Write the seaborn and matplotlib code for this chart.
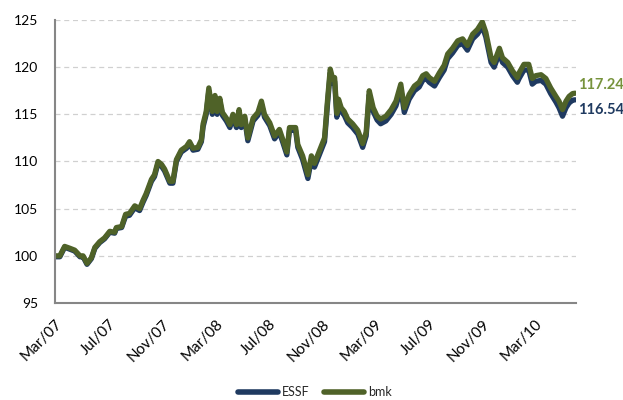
import pandas as pd
import numpy as np
import matplotlib.pyplot as plt
import matplotlib.dates as mdates
import seaborn as sns

# ------------------------------------------------------------------------
# Data
# ------------------------------------------------------------------------
dates = [
    "2007-03-01", "2007-03-12", "2007-03-23", "2007-04-04", "2007-04-15", "2007-04-27",
    "2007-05-04", "2007-05-13", "2007-05-23", "2007-05-31", "2007-06-11", "2007-06-22",
    "2007-07-04", "2007-07-15", "2007-07-19", "2007-07-31", "2007-08-09", "2007-08-18",
    "2007-08-30", "2007-09-10", "2007-09-18", "2007-09-25", "2007-10-07", "2007-10-14",
    "2007-10-22", "2007-10-30", "2007-11-06", "2007-11-18", "2007-11-25", "2007-12-03",
    "2007-12-14", "2007-12-26", "2008-01-02", "2008-01-10", "2008-01-21", "2008-01-29",
    "2008-02-02", "2008-02-09", "2008-02-15", "2008-02-23", "2008-02-29", "2008-03-05",
    "2008-03-11", "2008-03-17", "2008-03-26", "2008-04-03", "2008-04-10", "2008-04-18",
    "2008-04-24", "2008-04-29", "2008-05-07", "2008-05-14", "2008-05-26", "2008-06-06",
    "2008-06-14", "2008-06-21", "2008-07-03", "2008-07-14", "2008-07-25", "2008-08-02",
    "2008-08-11", "2008-08-17", "2008-08-31", "2008-09-05", "2008-09-16", "2008-09-28",
    "2008-10-06", "2008-10-13", "2008-10-25", "2008-11-05", "2008-11-12", "2008-11-18",
    "2008-11-24", "2008-11-28", "2008-12-03", "2008-12-07", "2008-12-13", "2008-12-20",
    "2008-12-28", "2009-01-08", "2009-01-20", "2009-01-31", "2009-02-08", "2009-02-15",
    "2009-02-24", "2009-03-05", "2009-03-13", "2009-03-25", "2009-04-06", "2009-04-17",
    "2009-04-28", "2009-05-06", "2009-05-17", "2009-05-29", "2009-06-09", "2009-06-17",
    "2009-06-25", "2009-07-02", "2009-07-14", "2009-07-25", "2009-08-05", "2009-08-13",
    "2009-08-24", "2009-09-05", "2009-09-16", "2009-09-27", "2009-10-09", "2009-10-20",
    "2009-10-31", "2009-11-08", "2009-11-20", "2009-11-27", "2009-12-09", "2009-12-16",
    "2009-12-28", "2010-01-08", "2010-01-19", "2010-01-23", "2010-02-03", "2010-02-14",
    "2010-02-22", "2010-03-02", "2010-03-14", "2010-03-25", "2010-04-05", "2010-04-17",
    "2010-04-24", "2010-05-02", "2010-05-10", "2010-05-17", "2010-05-25", "2010-05-31",
]

bmk = [
    100.0, 100.0, 101.0, 100.8, 100.6, 100.0, 100.0, 99.2, 99.8, 100.9, 101.5, 101.9,
    102.6, 102.5, 103.0, 103.1, 104.4, 104.5, 105.3, 105.0, 105.9, 106.6, 108.1, 108.6,
    110.0, 109.7, 109.2, 107.9, 107.9, 110.2, 111.2, 111.6, 112.1, 111.4, 111.5, 112.3,
    114.0, 115.3, 117.8, 115.3, 117.0, 115.3, 116.7, 115.2, 114.6, 113.9, 115.0, 113.9,
    115.5, 113.9, 114.8, 112.5, 114.6, 115.2, 116.4, 115.0, 114.1, 112.7, 113.4, 112.3,
    111.0, 113.6, 113.6, 111.8, 110.6, 108.6, 110.6, 109.8, 111.2, 112.5, 116.6, 119.8,
    118.7, 118.9, 115.1, 116.6, 115.7, 115.3, 114.5, 114.0, 113.3, 111.9, 113.1, 117.5,
    115.7, 114.8, 114.5, 114.8, 115.5, 116.4, 118.2, 115.7, 117.1, 118.0, 118.4, 119.1,
    119.3, 118.9, 118.5, 119.4, 120.2, 121.4, 122.0, 122.8, 123.0, 122.3, 123.5, 124.0,
    124.8, 123.7, 121.0, 120.5, 122.0, 121.0, 120.5, 119.6, 118.9, 119.4, 120.3, 120.3,
    118.8, 119.1, 119.2, 118.8, 117.8, 116.9, 116.4, 115.5, 116.4, 116.9, 117.2, 117.24,
]

essf = [
    99.9, 99.9, 100.9, 100.7, 100.5, 99.9, 99.9, 99.1, 99.7, 100.8, 101.4, 101.8,
    102.5, 102.4, 102.9, 103.0, 104.2, 104.3, 105.1, 104.8, 105.7, 106.4, 107.9, 108.4,
    109.8, 109.5, 109.0, 107.7, 107.7, 110.0, 111.0, 111.4, 111.9, 111.2, 111.3, 112.1,
    113.7, 115.0, 117.5, 115.0, 116.7, 115.0, 116.4, 114.9, 114.3, 113.6, 114.7, 113.6,
    115.2, 113.6, 114.5, 112.2, 114.3, 114.9, 116.1, 114.7, 113.8, 112.4, 113.1, 112.0,
    110.7, 113.3, 113.3, 111.5, 110.2, 108.2, 110.2, 109.4, 110.8, 112.1, 116.2, 119.4,
    118.3, 118.5, 114.7, 116.2, 115.3, 114.9, 114.1, 113.6, 112.9, 111.5, 112.7, 117.1,
    115.3, 114.4, 114.0, 114.3, 115.0, 115.9, 117.7, 115.2, 116.6, 117.5, 117.9, 118.6,
    118.8, 118.4, 118.0, 118.9, 119.7, 120.9, 121.5, 122.3, 122.5, 121.8, 123.0, 123.5,
    124.3, 123.2, 120.5, 120.0, 121.5, 120.5, 120.0, 119.1, 118.4, 118.8, 119.7, 119.7,
    118.2, 118.5, 118.6, 118.2, 117.2, 116.3, 115.7, 114.8, 115.7, 116.2, 116.5, 116.54,
]

series_names = ["ESSF", "bmk"]
colors = {"ESSF": "#1F3A60", "bmk": "#4F6228"}
label_colors = {"ESSF": "#1F3A60", "bmk": "#77933C"}
y_ticks = [95, 100, 105, 110, 115, 120, 125]

df = pd.DataFrame({
    "Date": pd.to_datetime(dates * 2),
    "Value": essf + bmk,
    "Series": ["ESSF"] * len(essf) + ["bmk"] * len(bmk),
})

# ------------------------------------------------------------------------
# Plot
# ------------------------------------------------------------------------
sns.set_style("white")
plt.rcParams["font.family"] = ["Lato", "DejaVu Sans"]

fig = plt.figure(figsize=(6.23, 4.0), dpi=100)
ax = fig.add_axes([0.0883, 0.2425, 0.924 - 0.0883, 0.95 - 0.2425])

sns.lineplot(data=df, x="Date", y="Value", hue="Series", hue_order=series_names,
             palette=colors, linewidth=3.8, ax=ax, legend=False)

ax.set_ylim(95, 125)
ax.set_yticks(y_ticks)
ax.set_xlim(pd.Timestamp("2007-03-01"), pd.Timestamp("2010-06-01"))
ax.xaxis.set_major_locator(mdates.MonthLocator(bymonth=[3, 7, 11]))
ax.xaxis.set_major_formatter(mdates.DateFormatter("%b/%y"))
ax.set_xlabel("")
ax.set_ylabel("")

for y in y_ticks[1:]:
    ax.axhline(y, color="#D0D0D0", linewidth=0.9, linestyle=(0, (4, 3)), zorder=0)

sns.despine(ax=ax)
for side in ["left", "bottom"]:
    ax.spines[side].set_color("#868686")
    ax.spines[side].set_linewidth(1.5)

ax.tick_params(axis="both", direction="out", length=4, width=1, color="#868686",
               labelsize=10, labelcolor="#000000")
ax.tick_params(axis="y", pad=8)
ax.tick_params(axis="x", pad=6, labelsize=11)
for lbl in ax.get_xticklabels():
    lbl.set_rotation(45)
    lbl.set_ha("right")
    lbl.set_rotation_mode("anchor")

# End labels
last_date = pd.Timestamp(dates[-1])
ax.annotate(f"{bmk[-1]:.2f}", xy=(last_date, bmk[-1]), xytext=(2, 6),
            textcoords="offset points", va="center", ha="left",
            fontsize=10.5, fontweight="bold", color=label_colors["bmk"],
            annotation_clip=False)
ax.annotate(f"{essf[-1]:.2f}", xy=(last_date, essf[-1]), xytext=(2, -7),
            textcoords="offset points", va="center", ha="left",
            fontsize=10.5, fontweight="bold", color=label_colors["ESSF"],
            annotation_clip=False)

# Legend at the bottom
handles = [plt.Line2D([], [], color=colors[s], linewidth=4, solid_capstyle="round")
           for s in series_names]
fig.legend(handles, series_names, loc="center", bbox_to_anchor=(0.505, 0.02),
           ncol=2, frameon=False, fontsize=9, handlelength=3.2,
           handletextpad=0.3, columnspacing=1.2)

plt.savefig("out.png", dpi=100)
plt.close()
